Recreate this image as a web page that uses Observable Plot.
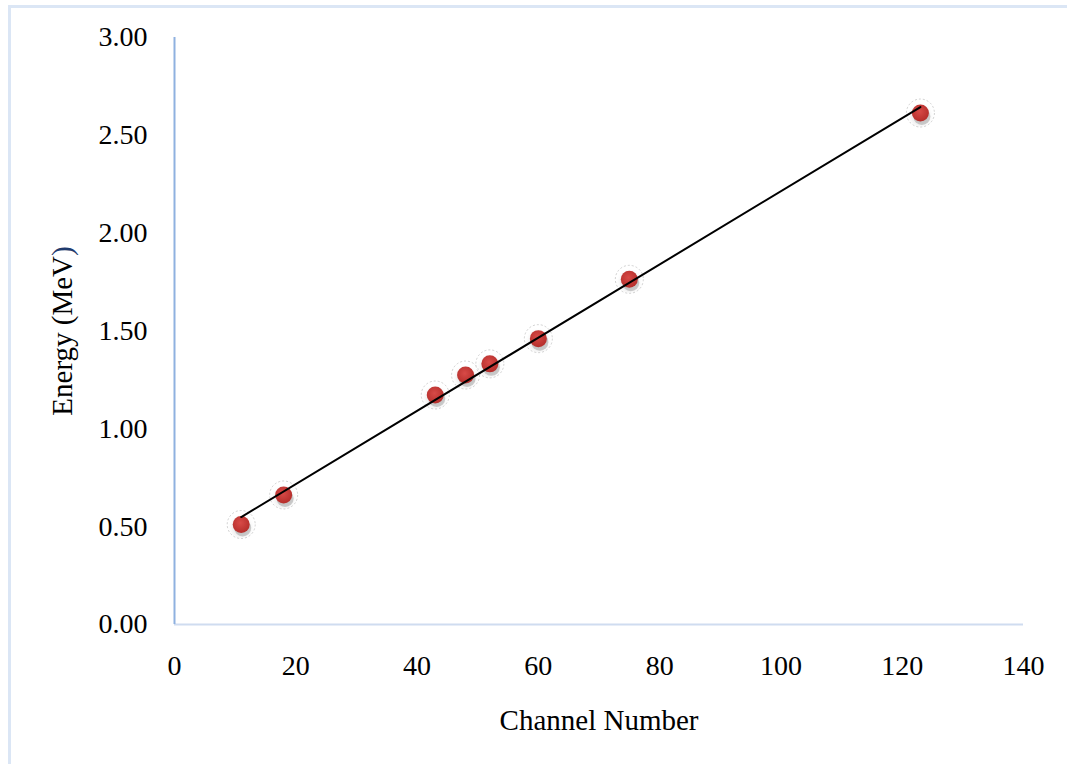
<!DOCTYPE html>
<html>
<head>
<meta charset="utf-8">
<script src="https://cdn.jsdelivr.net/npm/d3@7"></script>
<script src="https://cdn.jsdelivr.net/npm/@observablehq/plot@0.6"></script>
<style>
  html, body { margin: 0; padding: 0; background: #fff; }
  #wrap { position: relative; width: 1067px; height: 764px; overflow: hidden; }
  #border { position: absolute; left: 8px; top: 5px; width: 1100px; height: 800px;
            border-top: 3px solid #dbe6f5; border-left: 3px solid #dbe6f5; box-sizing: border-box; }
  #chart { position: absolute; left: 0; top: 0; }
</style>
</head>
<body>
<div id="wrap"><div id="chart"></div><div id="border"></div></div>
<script>
const channels = [11, 18, 43, 48, 52, 60, 75, 123];
const energies = [0.511, 0.662, 1.173, 1.275, 1.332, 1.461, 1.764, 2.614];
const xTicks = [0, 20, 40, 60, 80, 100, 120, 140];
const yTicks = [0, 0.5, 1, 1.5, 2, 2.5, 3];
const xTitle = "Channel Number";
const yTitle = "Energy (MeV)";

const data = channels.map((c, i) => ({channel: c, energy: energies[i]}));
const serif = "'Liberation Serif', 'Times New Roman', serif";

const chart = Plot.plot({
  width: 1067,
  height: 764,
  marginLeft: 174,
  marginRight: 44,
  marginTop: 37,
  marginBottom: 140,
  style: {fontFamily: serif, fontSize: "28px", color: "#000", background: "transparent"},
  x: {domain: [0, 140], ticks: xTicks, tickSize: 0, tickPadding: 31, label: null},
  y: {domain: [0, 3], ticks: yTicks, tickSize: 0, tickPadding: 27, tickFormat: d3.format(".2f"), label: null},
  marks: [
    Plot.ruleY([0], {stroke: "#cfdcf0", strokeWidth: 2}),
    Plot.ruleX([0], {stroke: "#8fb1e0", strokeWidth: 2}),
    // soft glow ring around each point
    Plot.dot(data, {x: "channel", y: "energy", r: 14, fill: "url(#glow)", stroke: "#c4c4c4", strokeWidth: 0.8, strokeDasharray: "2,2"}),
    // shadow
    Plot.dot(data, {x: "channel", y: "energy", r: 8.5, dx: 1.5, dy: 3.5, fill: "#8a8a8a", fillOpacity: 0.4}),
    Plot.dot(data, {x: "channel", y: "energy", r: 8.5, fill: "url(#red)"}),
    Plot.linearRegressionY(data, {x: "channel", y: "energy", stroke: "#000", strokeWidth: 2, ci: 0}),
    Plot.text([xTitle], {frameAnchor: "bottom", dy: 96, fontSize: 29, fill: "#000", textAnchor: "middle", lineAnchor: "middle"}),
    Plot.text([yTitle], {frameAnchor: "left", dx: -112, rotate: -90, fontSize: 29, fill: "#000", textAnchor: "middle", lineAnchor: "middle"})
  ]
});

// gradient definitions for point styling
const svg = d3.select(chart);
const defs = svg.insert("defs", ":first-child");
const glow = defs.append("radialGradient").attr("id", "glow").attr("cy", "60%");
glow.append("stop").attr("offset", "0%").attr("stop-color", "#cfcfcf").attr("stop-opacity", 0.9);
glow.append("stop").attr("offset", "65%").attr("stop-color", "#ececec").attr("stop-opacity", 0.6);
glow.append("stop").attr("offset", "100%").attr("stop-color", "#ffffff").attr("stop-opacity", 0);
const red = defs.append("radialGradient").attr("id", "red").attr("cx", "45%").attr("cy", "40%").attr("r", "60%");
red.append("stop").attr("offset", "0%").attr("stop-color", "#d84a47");
red.append("stop").attr("offset", "100%").attr("stop-color", "#b52e2b");

// color the closing parenthesis of the y title like the reference
svg.selectAll("text").filter(function() { return this.textContent === yTitle; }).each(function() {
  const t = d3.select(this);
  const target = t.select("tspan").empty() ? t : t.select("tspan");
  target.text(null);
  target.append("tspan").text(yTitle.slice(0, -1));
  target.append("tspan").attr("fill", "#1f3b6e").text(yTitle.slice(-1));
});

document.getElementById("chart").appendChild(chart);
</script>
</body>
</html>
